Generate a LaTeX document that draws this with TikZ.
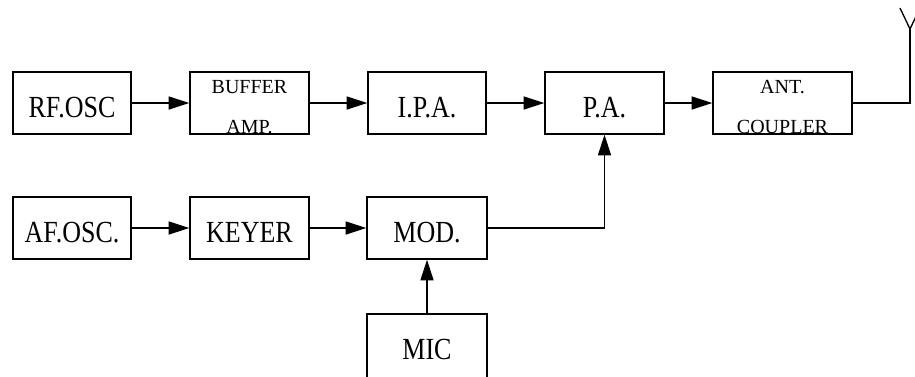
\documentclass[tikz,border=0pt]{standalone}
\usepackage{fontspec}
\setmainfont{Liberation Serif}
\usetikzlibrary{arrows.meta}
\tikzset{
  blk/.style={draw, line width=1pt, minimum width=88.5pt, minimum height=46.5pt, inner sep=0pt,
    font=\fontsize{19.5pt}{20pt}\selectfont, text height=21pt, text depth=0pt},
  sml/.style={anchor=base, inner sep=0pt, font=\fontsize{15pt}{16pt}\selectfont},
  arr/.style={line width=1pt, -{Triangle[length=15.5pt, width=9.75pt]}},
  wire/.style={line width=1pt}
}
\newcommand{\tall}[1]{\scalebox{1}[1.18]{#1}}
\begin{document}
\begin{tikzpicture}[x=0.75pt, y=-0.75pt]
\useasboundingbox (0,0) rectangle (915,376);
% top row
\node[blk] (rf) at (72,103) {\tall{RF.OSC}};
\node[blk, minimum width=89.25pt] (buf) at (249.5,103) {};
\node[blk] (ipa) at (427,103) {\tall{I.P.A.}};
\node[blk, minimum width=89.25pt] (pa) at (604.5,103) {\tall{P.A.}};
\node[blk, minimum width=104.25pt] (ant) at (782.5,103) {};
\node[sml] (bufa) at ([shift={(0,-10)}]buf.center) {BUFFER};
\node[sml] (bufb) at ([shift={(0,30)}]buf.center) {AMP.};
\node[sml] (anta) at ([shift={(0,-10)}]ant.center) {ANT.};
\node[sml] (antb) at ([shift={(0,30)}]ant.center) {COUPLER};
% bottom row
\node[blk] (af) at (72,228) {\tall{AF.OSC.}};
\node[blk, minimum width=89.25pt] (key) at (249.5,228) {\tall{KEYER}};
\node[blk, minimum width=90pt] (mod) at (427,228) {\tall{MOD.}};
\node[blk, minimum height=49.5pt, minimum width=90pt, text height=19pt] (mic) at (427,347) {\tall{MIC}};
% connectors
\draw[arr] (rf) -- (buf);
\draw[arr] (buf) -- (ipa);
\draw[arr] (ipa) -- (pa);
\draw[arr] (pa) -- (ant);
\draw[arr] (af) -- (key);
\draw[arr] (key) -- (mod);
\draw[arr] (mic) -- (mod);
\draw[arr] (mod.east) -| (pa.south);
% antenna
\coordinate (apex) at (910,29);
\coordinate (armL) at (900,8);
\coordinate (armR) at (920,8);
\draw[wire] (ant.east) -| (apex);
\draw[wire] (armL) -- (apex) -- (armR);
\end{tikzpicture}
\end{document}
